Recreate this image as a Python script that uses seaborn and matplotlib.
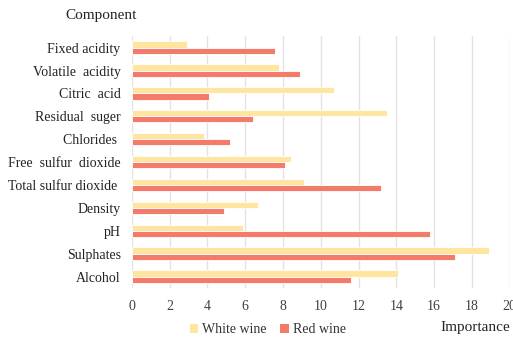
import matplotlib
matplotlib.use("Agg")
import matplotlib.pyplot as plt
import seaborn as sns
import pandas as pd
from matplotlib.patches import Patch

components = ["Fixed acidity", "Volatile  acidity", "Citric  acid", "Residual  suger",
              "Chlorides ", "Free  sulfur  dioxide", "Total sulfur dioxide ", "Density",
              "pH", "Sulphates", "Alcohol"]
white_wine = [2.9, 7.8, 10.7, 13.5, 3.8, 8.4, 9.1, 6.7, 5.9, 18.9, 14.1]
red_wine = [7.6, 8.9, 4.1, 6.4, 5.2, 8.1, 13.2, 4.9, 15.8, 17.1, 11.6]
series = ["White wine", "Red wine"]
x_ticks = [0, 2, 4, 6, 8, 10, 12, 14, 16, 18, 20]

df = pd.DataFrame({
    "Component": components * 2,
    "Importance": white_wine + red_wine,
    "Wine": [series[0]] * len(components) + [series[1]] * len(components),
})

sns.set_style("white")
plt.rcParams["font.family"] = ["Liberation Serif", "DejaVu Serif"]

fig = plt.figure(figsize=(5.13, 3.38), dpi=100)
ax = fig.add_axes([0.257, 0.148, 0.7366, 0.745])

palette = {"White wine": "#FFE6A0", "Red wine": "#F47A6A"}
sns.barplot(data=df, x="Importance", y="Component", hue="Wine", palette=palette,
            order=components, hue_order=series, width=0.54, orient="h",
            edgecolor="white", linewidth=0.6, saturation=1, ax=ax, legend=False)

ax.set_xlim(0, 20)
ax.set_ylim(10.5, -0.5)
ax.set_xticks(x_ticks)
ax.set_xticklabels([str(t) for t in x_ticks], fontsize=10, color="#404040")
ax.tick_params(axis="y", labelsize=10, colors="#222222", length=0, pad=8)
ax.tick_params(axis="x", length=0, pad=9)
ax.grid(axis="x", color="#E3E3E3", linewidth=1)
ax.set_axisbelow(True)
for s in ax.spines.values():
    s.set_visible(False)
ax.set_xlabel("")
ax.set_ylabel("")

fig.text(0.128, 0.953, "Component", fontsize=11, color="#222222", va="center")
fig.text(0.859, 0.032, "Importance", fontsize=11, color="#222222", va="center")

handles = [Patch(facecolor=palette[s], edgecolor="none") for s in series]
fig.legend(handles, series, loc="center", bbox_to_anchor=(0.522, 0.025), ncol=2,
           frameon=False, fontsize=10, handlelength=0.6, handleheight=0.6,
           handletextpad=0.3, columnspacing=1.0, labelcolor="#333333")

fig.savefig("out.png", dpi=100)
